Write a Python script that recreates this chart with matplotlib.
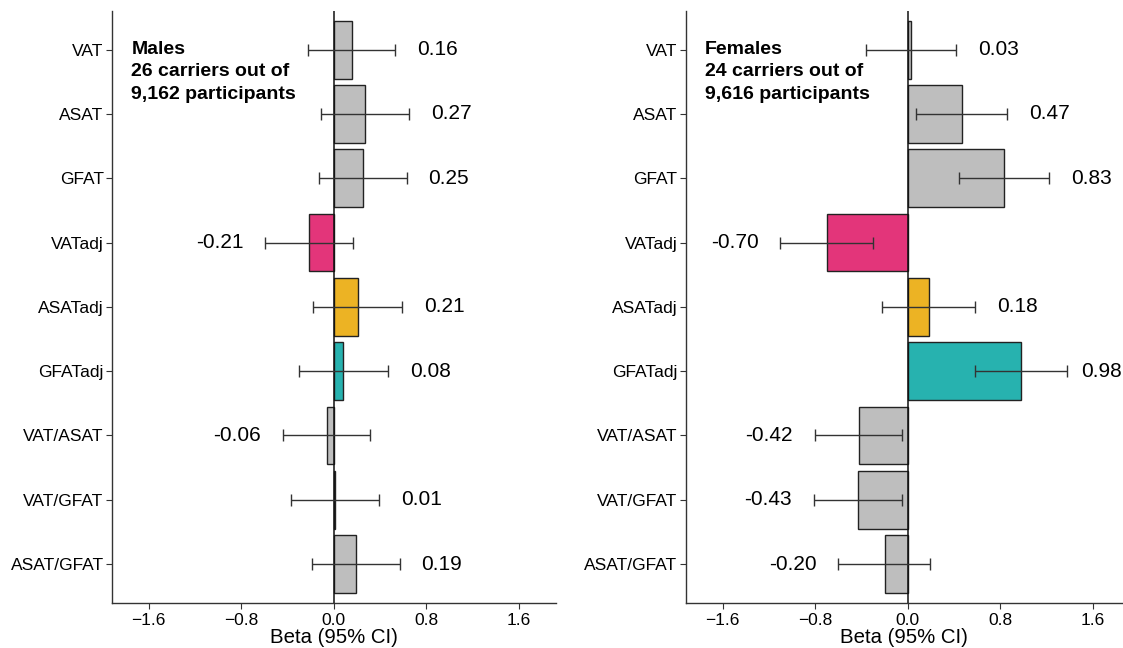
import matplotlib
matplotlib.use("Agg")
import matplotlib.pyplot as plt

plt.rcParams["font.family"] = ["Liberation Sans", "DejaVu Sans"]

traits = ["VAT", "ASAT", "GFAT", "VATadj", "ASATadj", "GFATadj",
          "VAT/ASAT", "VAT/GFAT", "ASAT/GFAT"]

male_beta = [0.16, 0.27, 0.25, -0.21, 0.21, 0.08, -0.06, 0.01, 0.19]
male_lo = [-0.22, -0.11, -0.13, -0.59, -0.18, -0.30, -0.44, -0.37, -0.19]
male_hi = [0.53, 0.65, 0.63, 0.17, 0.59, 0.47, 0.31, 0.39, 0.57]

female_beta = [0.03, 0.47, 0.83, -0.70, 0.18, 0.98, -0.42, -0.43, -0.20]
female_lo = [-0.36, 0.07, 0.44, -1.10, -0.22, 0.58, -0.80, -0.81, -0.60]
female_hi = [0.42, 0.86, 1.22, -0.30, 0.58, 1.38, -0.05, -0.05, 0.19]

male_note = "Males\n26 carriers out of\n9,162 participants"
female_note = "Females\n24 carriers out of\n9,616 participants"

GREY = "#bebebe"
trait_colors = {"VATadj": "#e3357a", "ASATadj": "#ecb324", "GFATadj": "#27b2af"}


def draw_panel(ax, beta, lo, hi, note, xlim):
    ys = list(range(len(traits)))
    colors = [trait_colors.get(t, GREY) for t in traits]
    ax.barh(ys, beta, height=0.9, color=colors, edgecolor="#222222", linewidth=1.0, zorder=2)
    ax.axvline(0, color="#111111", linewidth=1.1, zorder=3)
    for y, b, l, h in zip(ys, beta, lo, hi):
        ax.errorbar(b, y, xerr=[[b - l], [h - b]], fmt="none", ecolor="#333333",
                    elinewidth=1.0, capsize=4.5, capthick=1.0, zorder=4)
        if b >= 0:
            ax.text(min(h + 0.19, 1.50), y, f"{b:.2f}", ha="left", va="center", fontsize=15)
        else:
            ax.text(l - 0.19, y, f"{b:.2f}", ha="right", va="center", fontsize=15)
    ax.text(-1.75, -0.14, note, ha="left", va="top", fontsize=14, fontweight="bold",
            linespacing=1.45)
    ax.set_xlim(*xlim)
    ax.set_ylim(len(traits) - 0.4, -0.6)
    ax.set_yticks(ys)
    ax.set_yticklabels(traits)
    ax.set_xticks([-1.6, -0.8, 0.0, 0.8, 1.6])
    ax.set_xticklabels(["\u22121.6", "\u22120.8", "0.0", "0.8", "1.6"])
    ax.set_xlabel("Beta (95% CI)", fontsize=14.7, labelpad=0)
    ax.tick_params(axis="both", labelsize=12.5, length=4, width=0.8, color="#333333", pad=2)
    ax.tick_params(axis="x", pad=3.5)
    for side in ("top", "right"):
        ax.spines[side].set_visible(False)
    for side in ("left", "bottom"):
        ax.spines[side].set_color("#333333")
        ax.spines[side].set_linewidth(1.0)


fig = plt.figure(figsize=(11.23, 6.48), dpi=100)
ax_m = fig.add_axes([0.0997, 0.0699, 0.3951, 0.9131])
ax_f = fig.add_axes([0.6106, 0.0699, 0.3894, 0.9131])

draw_panel(ax_m, male_beta, male_lo, male_hi, male_note, (-1.918, 1.92))
draw_panel(ax_f, female_beta, female_lo, female_hi, female_note, (-1.918, 1.86))

fig.savefig("out.png", dpi=100)
